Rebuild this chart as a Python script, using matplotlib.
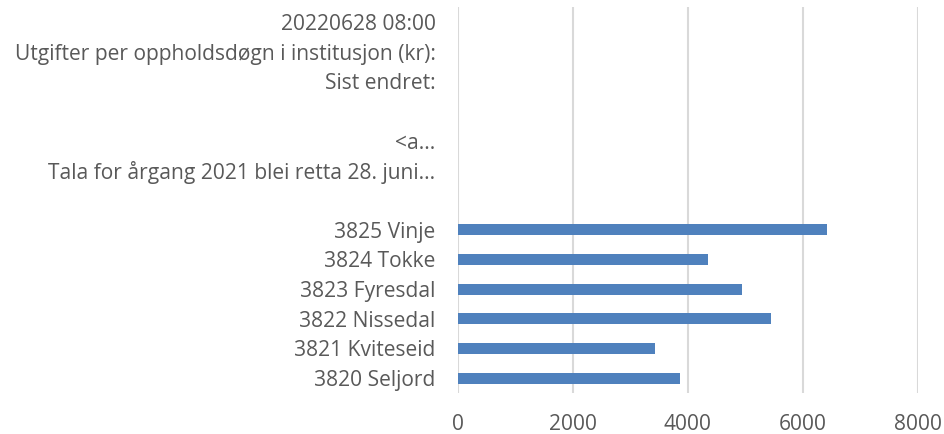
import matplotlib
matplotlib.use("Agg")
import matplotlib.pyplot as plt

plt.rcParams['font.family'] = ['Open Sans', 'DejaVu Sans']

# Categories bottom to top (blank rows are empty categories in the source sheet)
labels = [
    "3820 Seljord",
    "3821 Kviteseid",
    "3822 Nissedal",
    "3823 Fyresdal",
    "3824 Tokke",
    "3825 Vinje",
    "",
    "Tala for årgang 2021 blei retta 28. juni...",
    "<a...",
    " ",
    "Sist endret:",
    "Utgifter per oppholdsdøgn i institusjon (kr):",
    "20220628 08:00",
]
values = [3866, 3431, 5449, 4944, 4353, 6423, 0, 0, 0, 0, 0, 0, 0]

text_color = "#595959"
bar_color = "#4f81bd"

fig = plt.figure(figsize=(9.45, 4.34), dpi=100)
ax = fig.add_axes([0.4844, 0.0945, 0.9714 - 0.4844, 0.9839 - 0.0945])

pos = list(range(len(labels)))
ax.barh(pos, values, height=0.37, color=bar_color, zorder=3)

ax.set_xlim(0, 8000)
ax.set_ylim(-0.5, len(labels) - 0.5)
ax.set_xticks([0, 2000, 4000, 6000, 8000])
ax.set_yticks(pos, labels=labels)

ax.xaxis.grid(True, color="#d9d9d9", linewidth=1.5, zorder=0)
for s in ax.spines.values():
    s.set_visible(False)
ax.tick_params(axis="both", length=0, labelsize=15.1, labelcolor=text_color)
ax.tick_params(axis="y", pad=16)
ax.tick_params(axis="x", pad=15)

plt.savefig("out.png", dpi=100)
